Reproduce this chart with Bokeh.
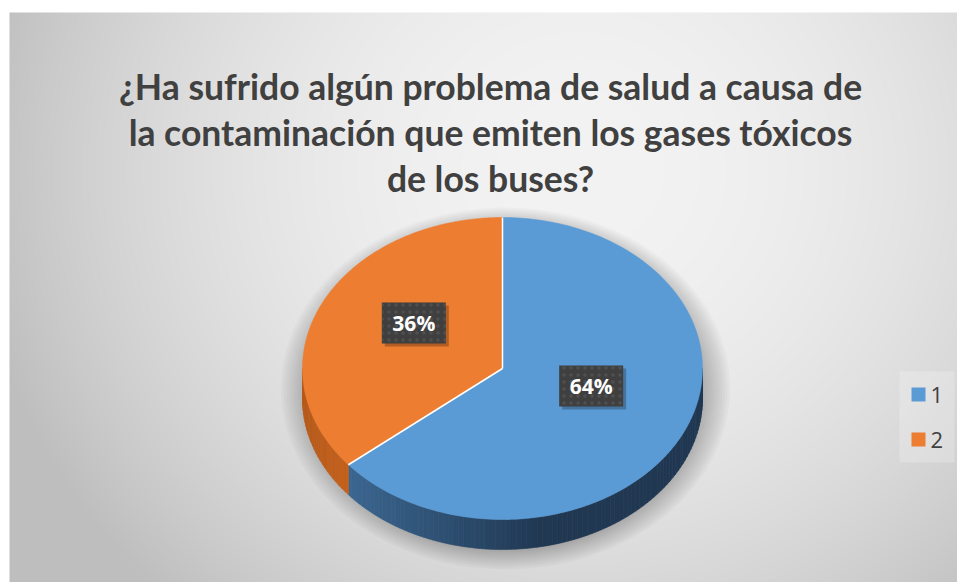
import numpy as np
from bokeh.plotting import figure
from bokeh.models import Range1d
from bokeh.core.properties import value
from bokeh.embed import file_html
from bokeh.resources import INLINE

# ---- data ----
categories = ["1", "2"]
values = [64, 36]
top_colors = ["#5B9BD5", "#ED7D31"]
title_lines = [
    "¿Ha sufrido algún problema de salud a causa de",
    "la contaminación que emiten los gases tóxicos",
    "de los buses?",
]

W, H = 957, 582
p = figure(width=W, height=H, output_backend="svg", toolbar_location=None,
           x_range=Range1d(0, W), y_range=Range1d(0, H), min_border=0)
p.axis.visible = False
p.grid.visible = False
p.outline_line_color = None
p.background_fill_color = "white"
p.border_fill_color = "white"

def Y(sy):
    return H - sy

# ---- background radial gradient ----
gx0, gy0 = 9, 12
gw, gh = W - gx0, H - gy0
xs = gx0 + np.arange(gw) + 0.5
sys_ = H - (np.arange(gh) + 0.5)
XX, YY = np.meshgrid(xs, sys_)
d = np.sqrt((XX - 580) ** 2 + ((YY - 170) * 1.05) ** 2)
g = 243 - 44 * (d / 560.0) ** 2
g = np.clip(g, 190, 245).astype(np.uint32)
img = (255 << 24) | (g << 16) | (g << 8) | g
p.image_rgba(image=[img.astype(np.uint32)], x=gx0, y=0, dw=gw, dh=gh)

# ---- pie geometry ----
cx, cy, Rx, Ry, depth = 502, 368, 200, 151, 30

def pt(theta_deg, dy=0, f=1.0):
    t = np.radians(theta_deg)
    return cx + f * Rx * np.sin(t), Y(cy - f * Ry * np.cos(t) + dy)

# shadow
for k in range(12):
    tt = np.linspace(0, 2 * np.pi, 200)
    rx = 196 + 2.6 * k
    ry = 160 + 1.9 * k
    p.patch(505 + rx * np.sin(tt), Y(388 + ry * np.cos(tt)),
            fill_color="black", fill_alpha=0.022, line_color=None)

total = sum(values)
fracs = [v / total for v in values]
starts = np.cumsum([0] + fracs[:-1]) * 360
ends = np.cumsum(fracs) * 360

blue_light = np.array([66, 114, 160])
blue_dark = np.array([32, 56, 82])
orange_side = np.array([197, 98, 29])

# sides (front half: 90..270 deg)
for i, (a0, a1) in enumerate(zip(starts, ends)):
    lo, hi = max(a0, 90), min(a1, 270)
    if hi <= lo:
        continue
    n = max(4, int((hi - lo) / 1.5))
    angs = np.linspace(lo, hi, n + 1)
    for j in range(n):
        b0, b1 = angs[j], angs[j + 1]
        x0, y0 = pt(b0)
        x1, y1 = pt(b1)
        x2, y2 = pt(b1, depth)
        x3, y3 = pt(b0, depth)
        if i == 0:
            t = ((x0 + x1) / 2 - 302) / 400
            c = blue_light + (blue_dark - blue_light) * min(1.0, t / 0.6)
        else:
            t = ((x0 + x1) / 2 - 302) / 45
            c = orange_side * (0.93 + 0.07 * min(1.0, t))
        col = "#%02x%02x%02x" % tuple(int(v) for v in c)
        p.patch([x0, x1, x2, x3], [y0, y1, y2, y3], fill_color=col,
                line_color=col, line_width=0.6)

# top faces
for i, (a0, a1) in enumerate(zip(starts, ends)):
    angs = np.linspace(a0, a1, 200)
    px, py = pt(angs)
    px = np.concatenate([[cx], px])
    py = np.concatenate([[Y(cy)], py])
    p.patch(px, py, fill_color=top_colors[i], line_color=top_colors[i], line_width=0.5)

# white separators on the slice edges
for a in starts:
    ex, ey = pt(a)
    p.line([cx, ex], [Y(cy), ey], line_color="white", line_width=1.5)

# ---- data labels ----
mids = (starts + ends) / 2
lx, ly = [], []
for m in mids:
    x, y = pt(m, dy=-14, f=0.49)
    lx.append(x)
    ly.append(y)
labels = ["%d%%" % v for v in values]
p.rect(x=[v + 3 for v in lx], y=[v - 3 for v in ly], width=64, height=41,
       fill_color="black", fill_alpha=0.25, line_color=None)
p.rect(x=lx, y=ly, width=64, height=41, fill_color="#3f3f3f", line_color=None,
       hatch_pattern="dot", hatch_color="#5a5a5a", hatch_scale=7, hatch_weight=1.5,
       hatch_alpha=0.6)
p.text(x=lx, y=ly, text=labels, text_font=value("Open Sans"), text_font_style="bold",
       text_font_size="21px", text_color="white", text_align="center",
       text_baseline="middle")

# ---- title ----
for k, line in enumerate(title_lines):
    p.text(x=[490], y=[Y(86 + 46 * k)], text=[line], text_font=value("Lato"),
           text_font_style="bold", text_font_size="35.5px", text_color="#404040",
           text_align="center", text_baseline="alphabetic")

# ---- legend ----
p.rect(x=[926.5], y=[Y(416.5)], width=55, height=91, fill_color="white",
       fill_alpha=0.22, line_color=None)
leg_y = [Y(394), Y(439)]
p.rect(x=[918, 918], y=leg_y, width=14, height=14, fill_color=top_colors, line_color=None)
p.text(x=[930, 930], y=leg_y, text=categories, text_font=value("Open Sans"),
       text_font_size="22px", text_color="#404040", text_align="left",
       text_baseline="middle")

open("out.html", "w").write(file_html(p, INLINE))
